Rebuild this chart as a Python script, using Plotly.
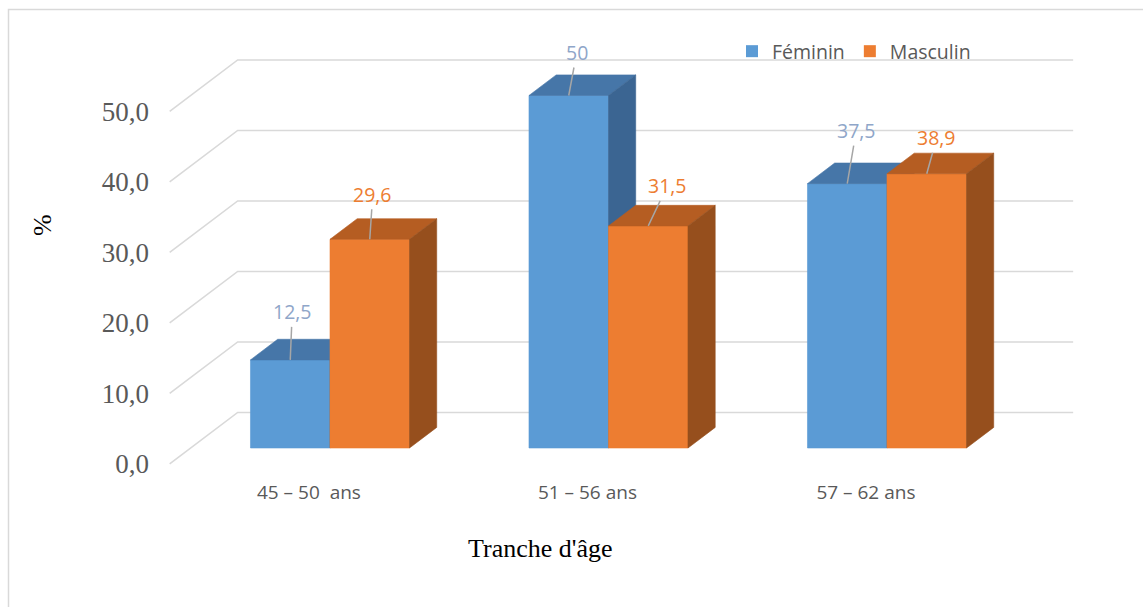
import plotly.graph_objects as go

# ---- data -------------------------------------------------------------
categories = ["45 – 50  ans", "51 – 56 ans", "57 – 62 ans"]
series_names = ["Féminin", "Masculin"]
feminin = [12.5, 50.0, 37.5]
masculin = [29.6, 31.5, 38.9]
y_ticks = [0, 10, 20, 30, 40, 50]

# ---- styling / geometry ----------------------------------------------
W, H = 1143, 607
CAT_PX = 278.5          # pixels per category step
VAL_PX = 7.05           # pixels per percentage point
DEPTH_PX = (68.0, 51.5) # oblique offset of the full chart depth (px right, px up)
BAR_W = 0.2855          # bar width in category units
BAR_D0, BAR_D1 = 0.31, 0.71   # bar depth span (0 = front wall, 1 = back wall)
WALL_X0, WALL_X1 = -0.50, 2.50
ORIGIN_PX = (330.0, 448.0)    # where category 0 / value 0 sit on the bar front plane

DX = DEPTH_PX[0] / CAT_PX
DY = DEPTH_PX[1] / VAL_PX

COLORS = [
    dict(front="#5b9bd5", top="#4676a8", side="#3b6592", label="#8fa6c9"),
    dict(front="#ed7d31", top="#b55d22", side="#964f1d", label="#ed7d31"),
]
GRID = "#d9d9d9"
TICK_GREY = "#595959"
SANS = "Open Sans"
SERIF = "Liberation Serif"

# per-label leader offsets (pixels) for the data labels
label_offsets = [
    [(2, -48), (8, -43), (9, -53)],
    [(3, -45), (19, -40), (10, -36)],
]


def proj(x, v, d):
    """Oblique projection of (category x, value v, depth d) onto the plot plane."""
    return x + (d - BAR_D0) * DX, v + (d - BAR_D0) * DY


def poly(points):
    xs, ys = zip(*[proj(*p) for p in points])
    return list(xs) + [xs[0]], list(ys) + [ys[0]]


fig = go.Figure()

# gridlines: diagonal on the side wall, horizontal on the back wall
for v in y_ticks:
    xs, ys = zip(*[proj(WALL_X0, v, 0), proj(WALL_X0, v, 1), proj(WALL_X1, v, 1)])
    fig.add_trace(go.Scatter(x=xs, y=ys, mode="lines",
                             line=dict(color=GRID, width=1.6),
                             hoverinfo="skip", showlegend=False))

# 3-D bars: front, top and right-hand side faces
series = [feminin, masculin]
for i in range(len(categories)):
    for s, values in enumerate(series):
        v = values[i]
        x0 = i - BAR_W + s * BAR_W
        x1 = x0 + BAR_W
        c = COLORS[s]
        faces = [
            ([(x0, 0, BAR_D0), (x1, 0, BAR_D0), (x1, v, BAR_D0), (x0, v, BAR_D0)], c["front"]),
            ([(x0, v, BAR_D0), (x1, v, BAR_D0), (x1, v, BAR_D1), (x0, v, BAR_D1)], c["top"]),
            ([(x1, 0, BAR_D0), (x1, 0, BAR_D1), (x1, v, BAR_D1), (x1, v, BAR_D0)], c["side"]),
        ]
        for pts, col in faces:
            px, py = poly(pts)
            fig.add_trace(go.Scatter(x=px, y=py, mode="lines", fill="toself",
                                     fillcolor=col, line=dict(width=0.6, color=col),
                                     hoverinfo="skip", showlegend=False))

# legend entries
for s, name in enumerate(series_names):
    fig.add_trace(go.Scatter(x=[None], y=[None], mode="markers", name=name,
                             marker=dict(symbol="square", size=12, color=COLORS[s]["front"])))

# data labels with leader lines
for s, values in enumerate(series):
    for i, v in enumerate(values):
        xc = i - BAR_W / 2 + s * BAR_W
        ax, ay = label_offsets[s][i]
        fig.add_annotation(
            x=xc, y=v, xref="x", yref="y",
            text=f"{v:g}".replace(".", ","),
            showarrow=True, arrowhead=0, arrowwidth=1.5, arrowcolor="#a6a6a6",
            ax=ax, ay=ay, axref="pixel", ayref="pixel", standoff=0,
            font=dict(family=SANS, size=19.5, color=COLORS[s]["label"]),
        )

# axis titles
fig.add_annotation(x=540 / W, y=1 - 548 / H, xref="paper", yref="paper",
                   xanchor="center", yanchor="middle",
                   text="Tranche d'âge", showarrow=False,
                   font=dict(family=SERIF, size=26, color="#000000"))
fig.add_annotation(x=42 / W, y=1 - 225 / H, xref="paper", yref="paper",
                   xanchor="center", yanchor="middle",
                   text="%", textangle=-90, showarrow=False,
                   font=dict(family=SERIF, size=26, color="#000000"))

# chart border
fig.add_shape(type="rect", xref="paper", yref="paper",
              x0=8.5 / W, x1=1.05, y0=-0.05, y1=1 - 9.5 / H,
              line=dict(color="#d9d9d9", width=1.5), fillcolor="rgba(0,0,0,0)")

x_range = [-ORIGIN_PX[0] / CAT_PX, (W - ORIGIN_PX[0]) / CAT_PX]
y_range = [(ORIGIN_PX[1] - H) / VAL_PX, ORIGIN_PX[1] / VAL_PX]
front_zero_px = ORIGIN_PX[1] + BAR_D0 * DEPTH_PX[1]

fig.update_layout(
    width=W, height=H,
    margin=dict(l=0, r=0, t=0, b=0),
    paper_bgcolor="white", plot_bgcolor="white",
    showlegend=True,
    legend=dict(orientation="h", x=732 / W, y=1 - 32 / H, xanchor="left", yanchor="top",
                font=dict(family=SANS, size=19.5, color=TICK_GREY),
                bgcolor="rgba(0,0,0,0)", itemwidth=30),
    xaxis=dict(range=x_range, domain=[0, 1], anchor="free", position=1 - front_zero_px / H,
               tickvals=[proj(i, 0, 0)[0] for i in range(len(categories))],
               ticktext=categories, ticks="", showgrid=False, zeroline=False, showline=False,
               ticklabelstandoff=15,
               tickfont=dict(family=SANS, size=19, color=TICK_GREY)),
    yaxis=dict(range=y_range, domain=[0, 1], anchor="free", position=149 / W,
               tickvals=[proj(0, v, 0)[1] for v in y_ticks],
               ticktext=[f"{v:.1f}".replace(".", ",") for v in y_ticks],
               ticks="", showgrid=False, zeroline=False, showline=False,
               tickfont=dict(family=SERIF, size=27, color=TICK_GREY)),
)

fig.write_html("out.html")
